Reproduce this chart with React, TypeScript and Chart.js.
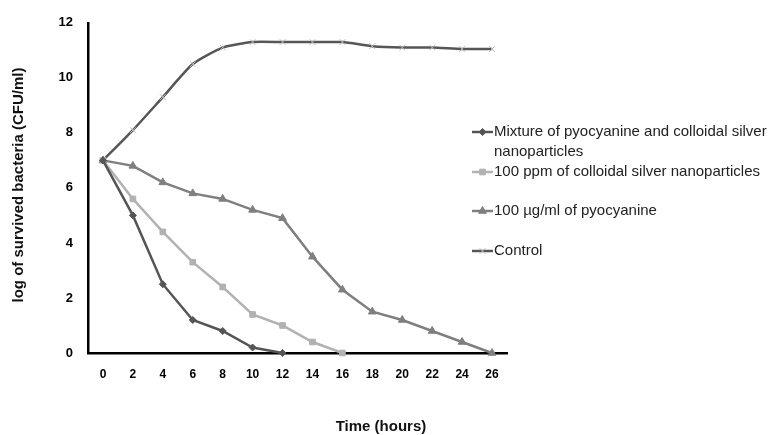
import React, { useEffect, useRef } from "react";
import { Chart, registerables } from "chart.js";
import { drawPoint } from "chart.js/helpers";

Chart.register(...registerables);

const hours = ["0", "2", "4", "6", "8", "10", "12", "14", "16", "18", "20", "22", "24", "26"];
const mixture = [7, 5, 2.5, 1.2, 0.8, 0.2, 0, null, null, null, null, null, null, null];
const silver = [7, 5.6, 4.4, 3.3, 2.4, 1.4, 1.0, 0.4, 0, null, null, null, null, null];
const pyocyanine = [7, 6.8, 6.2, 5.8, 5.6, 5.2, 4.9, 3.5, 2.3, 1.5, 1.2, 0.8, 0.4, 0];
const control = [7, 8.1, 9.3, 10.5, 11.1, 11.3, 11.3, 11.3, 11.3, 11.15, 11.1, 11.1, 11.05, 11.05];

const seriesLabels = [
  "Mixture of pyocyanine and colloidal silver nanoparticles",
  "100 ppm of colloidal silver nanoparticles",
  "100 µg/ml of pyocyanine",
  "Control",
];
const yTitle = "log of survived bacteria (CFU/ml)";
const xTitle = "Time (hours)";

const FONT = "Arial, 'Liberation Sans', sans-serif";

const overlayPlugin = {
  id: "overlay",
  afterDraw(chart: any) {
    const ctx = chart.ctx as CanvasRenderingContext2D;
    ctx.save();
    // axis titles
    ctx.fillStyle = "#111";
    ctx.font = `bold 15px ${FONT}`;
    ctx.textAlign = "center";
    ctx.textBaseline = "middle";
    ctx.fillText(xTitle, 381, 427);
    ctx.save();
    ctx.translate(19, 185);
    ctx.rotate(-Math.PI / 2);
    ctx.fillText(yTitle, 0, 0);
    ctx.restore();

    // legend
    const rows: { lines: string[]; y: number }[] = [
      { lines: ["Mixture of pyocyanine and colloidal silver", "nanoparticles"], y: 132 },
      { lines: [seriesLabels[1]], y: 172 },
      { lines: [seriesLabels[2]], y: 211 },
      { lines: [seriesLabels[3]], y: 251 },
    ];
    ctx.font = `15px ${FONT}`;
    ctx.textAlign = "left";
    rows.forEach((row, i) => {
      const ds = chart.data.datasets[i];
      ctx.strokeStyle = ds.borderColor;
      ctx.lineWidth = ds.borderWidth;
      ctx.beginPath();
      ctx.moveTo(472, row.y);
      ctx.lineTo(493, row.y);
      ctx.stroke();
      ctx.fillStyle = ds.pointBackgroundColor;
      ctx.strokeStyle = ds.pointBorderColor;
      ctx.lineWidth = ds.pointBorderWidth;
      drawPoint(
        ctx,
        { pointStyle: ds.pointStyle, rotation: 0, radius: ds.pointRadius, borderWidth: ds.pointBorderWidth } as any,
        482.5,
        row.y
      );
      ctx.fillStyle = "#222";
      row.lines.forEach((t, k) => ctx.fillText(t, 494, row.y + k * 20));
    });
    ctx.restore();
  },
};

export default function App() {
  const ref = useRef<HTMLCanvasElement | null>(null);
  useEffect(() => {
    if (!ref.current) return;
    const mk = (
      label: string,
      data: (number | null)[],
      color: string,
      pointStyle: string,
      radius: number,
      pColor: string,
      tension = 0
    ) => ({
      label,
      data,
      borderColor: color,
      borderWidth: 2.5,
      pointStyle,
      pointRadius: radius,
      pointBackgroundColor: pColor,
      pointBorderColor: pColor,
      pointBorderWidth: 1,
      pointHoverRadius: radius,
      tension,
      clip: false as any,
      spanGaps: false,
    });
    const chart = new Chart(ref.current, {
      type: "line",
      data: {
        labels: hours,
        datasets: [
          mk(seriesLabels[0], mixture, "#555555", "rectRot", 3.5, "#555555"),
          mk(seriesLabels[1], silver, "#b2b2b2", "rect", 4, "#b2b2b2"),
          mk(seriesLabels[2], pyocyanine, "#7f7f7f", "triangle", 4.5, "#7f7f7f"),
          mk(seriesLabels[3], control, "#565656", "crossRot", 4, "#b8b8b8", 0.2),
        ] as any,
      },
      options: {
        animation: false,
        responsive: false,
        events: [],
        layout: { padding: { left: 0, top: 20, right: 266, bottom: 0 } },
        plugins: { legend: { display: false }, tooltip: { enabled: false } },
        scales: {
          x: {
            type: "category",
            offset: true,
            grid: { display: false, drawTicks: false },
            border: { display: true, color: "#000", width: 2.5 },
            ticks: { color: "#000", font: { family: FONT, size: 12, weight: "bold" }, padding: 14, maxRotation: 0 },
            afterFit: (s: any) => { s.height = 82; },
          },
          y: {
            min: 0,
            max: 12,
            grid: { display: false, drawTicks: false },
            border: { display: true, color: "#000", width: 2.5 },
            ticks: { stepSize: 2, color: "#000", font: { family: FONT, size: 13, weight: "bold" }, padding: 15 },
            afterFit: (s: any) => { s.width = 88; },
          },
        },
      } as any,
      plugins: [overlayPlugin],
    });
    return () => chart.destroy();
  }, []);
  return (
    <div style={{ position: "fixed", left: 0, top: 0, width: 773, height: 435, background: "#fff" }}>
      <canvas ref={ref} width={773} height={435} style={{ width: 773, height: 435 }} />
    </div>
  );
}
